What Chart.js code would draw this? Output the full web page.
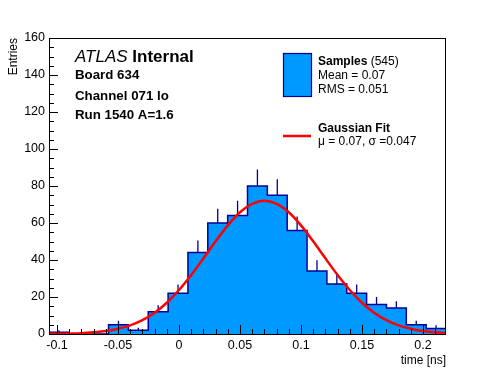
<!DOCTYPE html>
<html>
<head>
<meta charset="utf-8">
<script src="https://cdn.jsdelivr.net/npm/chart.js@4.4.1/dist/chart.umd.min.js"></script>
<style>
  html, body { margin: 0; padding: 0; background: #fff; }
  canvas { display: block; }
</style>
</head>
<body>
<canvas id="chart" width="496" height="372"></canvas>
<script>
// time histogram, 20 bins (ns)
const binStart = -0.1066;
const binWidth = 0.016275;
const counts = [1, 0, 0, 5, 2, 12, 22, 44, 60, 64, 80, 75, 56, 34, 27, 22, 16, 14, 5, 3];
const errors = [1, 0, 0, 2.2, 1.4, 3.5, 4.7, 6.6, 7.7, 8, 8.9, 8.7, 7.5, 5.8, 5.2, 4.7, 4, 3.7, 2.2, 1.7];

// gaussian fit curve
const fitX = [-0.11, -0.10, -0.09, -0.08, -0.07, -0.06, -0.05, -0.04, -0.03, -0.02, -0.01,
  0, 0.01, 0.02, 0.03, 0.04, 0.05, 0.06, 0.07, 0.08, 0.09, 0.10, 0.11, 0.12, 0.13,
  0.14, 0.15, 0.16, 0.17, 0.18, 0.19, 0.20, 0.21, 0.22];
const fitY = [0.1, 0.1, 0.2, 0.4, 0.9, 1.6, 2.8, 4.7, 7.5, 11.5, 16.9,
  23.8, 31.9, 40.9, 50.1, 58.7, 65.8, 70.4, 72.0, 70.4, 65.8, 58.7, 50.1, 40.9, 31.9,
  23.8, 16.9, 11.5, 7.5, 4.7, 2.8, 1.6, 0.9, 0.4];

const FILL = '#0099ff';
const NAVY = '#000099';
const FONT = 'Liberation Sans';

Chart.defaults.font.family = FONT;
Chart.defaults.color = '#000';

// step outline of the histogram
const histPoints = [];
counts.forEach((c, i) => {
  const lo = binStart + i * binWidth;
  histPoints.push({ x: lo, y: c }, { x: lo + binWidth, y: c });
});

// upper error bars at bin centres, broken by null points
const errPoints = [];
counts.forEach((c, i) => {
  if (!c) return;
  const xc = binStart + (i + 0.5) * binWidth;
  errPoints.push({ x: xc, y: c }, { x: xc, y: c + errors[i] }, { x: xc, y: null });
});

const fitPoints = fitX.map((x, i) => ({ x: x, y: fitY[i] }));

// ROOT-like frame, inward ticks, labels and legend
const rootStyle = {
  id: 'rootStyle',
  afterDraw(chart) {
    const ctx = chart.ctx;
    const a = chart.chartArea;
    const xs = chart.scales.x;
    const ys = chart.scales.y;
    ctx.save();
    ctx.strokeStyle = '#000';
    ctx.lineWidth = 1;
    ctx.strokeRect(a.left + 0.5, a.top + 0.5, a.right - a.left - 1, a.bottom - a.top);

    ctx.beginPath();
    xs.ticks.forEach(t => {
      const px = Math.round(xs.getPixelForValue(t.value)) + 0.5;
      const len = t.label !== '' ? 9 : 5;
      ctx.moveTo(px, a.bottom);
      ctx.lineTo(px, a.bottom - len);
    });
    ys.ticks.forEach(t => {
      const py = Math.round(ys.getPixelForValue(t.value)) + 0.5;
      const len = t.label !== '' ? 9 : 5;
      ctx.moveTo(a.left, py);
      ctx.lineTo(a.left + len, py);
    });
    ctx.stroke();

    // ATLAS label block
    ctx.fillStyle = '#000';
    ctx.textBaseline = 'middle';
    ctx.textAlign = 'left';
    ctx.font = 'italic 17px ' + FONT;
    ctx.fillText('ATLAS', 75, 57.5);
    const w = ctx.measureText('ATLAS ').width;
    ctx.font = 'bold 17px ' + FONT;
    ctx.fillText('Internal', 75 + w, 57.5);
    ctx.font = 'bold 13.3px ' + FONT;
    ctx.fillText('Board 634', 75, 75.5);
    ctx.fillText('Channel 071 lo', 75, 96);
    ctx.fillText('Run 1540 A=1.6', 75, 115);

    // legend
    ctx.fillStyle = FILL;
    ctx.fillRect(283, 53, 28, 43);
    ctx.strokeStyle = NAVY;
    ctx.lineWidth = 1.2;
    ctx.strokeRect(283.5, 53.5, 28, 43);
    ctx.fillStyle = '#000';
    ctx.font = 'bold 12px ' + FONT;
    ctx.fillText('Samples', 318, 62);
    const sw = ctx.measureText('Samples').width;
    ctx.font = '12px ' + FONT;
    ctx.fillText(' (545)', 318 + sw, 62);
    ctx.fillText('Mean = 0.07', 318, 76);
    ctx.fillText('RMS = 0.051', 318, 90);

    ctx.strokeStyle = '#ff0000';
    ctx.lineWidth = 2.5;
    ctx.beginPath();
    ctx.moveTo(283, 136);
    ctx.lineTo(311, 136);
    ctx.stroke();
    ctx.font = 'bold 12px ' + FONT;
    ctx.fillText('Gaussian Fit', 318, 129);
    ctx.font = '12px ' + FONT;
    ctx.fillText('\u03bc = 0.07, \u03c3 =0.047', 318, 142);
    ctx.restore();
  }
};

new Chart(document.getElementById('chart'), {
  type: 'line',
  data: {
    datasets: [
      {
        label: 'Gaussian Fit',
        data: fitPoints,
        borderColor: '#ff0000',
        borderWidth: 2.5,
        pointRadius: 0,
        fill: false,
        cubicInterpolationMode: 'monotone'
      },
      {
        label: 'errors',
        data: errPoints,
        borderColor: NAVY,
        borderWidth: 1.3,
        pointRadius: 0,
        fill: false,
        spanGaps: false
      },
      {
        label: 'Samples',
        data: histPoints,
        borderColor: NAVY,
        backgroundColor: FILL,
        borderWidth: 1.5,
        pointRadius: 0,
        fill: 'origin',
        tension: 0
      }
    ]
  },
  options: {
    responsive: false,
    animation: false,
    layout: { padding: { top: 38, right: 50, left: 0, bottom: 0 } },
    plugins: {
      legend: { display: false },
      tooltip: { enabled: false }
    },
    scales: {
      x: {
        type: 'linear',
        min: binStart,
        max: binStart + counts.length * binWidth,
        grid: { display: false, drawTicks: false },
        border: { display: false },
        ticks: {
          stepSize: 0.01,
          includeBounds: false,
          autoSkip: false,
          maxRotation: 0,
          padding: 4,
          font: { size: 12.5 },
          callback: (v) => {
            const r = Math.round(v * 100);
            return r % 5 === 0 ? String(r / 100) : '';
          }
        },
        title: {
          display: true,
          text: 'time [ns]',
          align: 'end',
          font: { size: 12 },
          padding: { top: 13 }
        },
        afterFit: (s) => { s.height = 38; }
      },
      y: {
        min: 0,
        max: 160,
        grid: { display: false, drawTicks: false },
        border: { display: false },
        ticks: {
          stepSize: 5,
          autoSkip: false,
          padding: 4,
          font: { size: 12.5 },
          callback: (v) => (v % 20 === 0 ? String(v) : '')
        },
        title: {
          display: true,
          text: 'Entries',
          align: 'end',
          font: { size: 12 },
          padding: { top: 6 }
        },
        afterFit: (s) => { s.width = 49; }
      }
    }
  },
  plugins: [rootStyle]
});
</script>
</body>
</html>
